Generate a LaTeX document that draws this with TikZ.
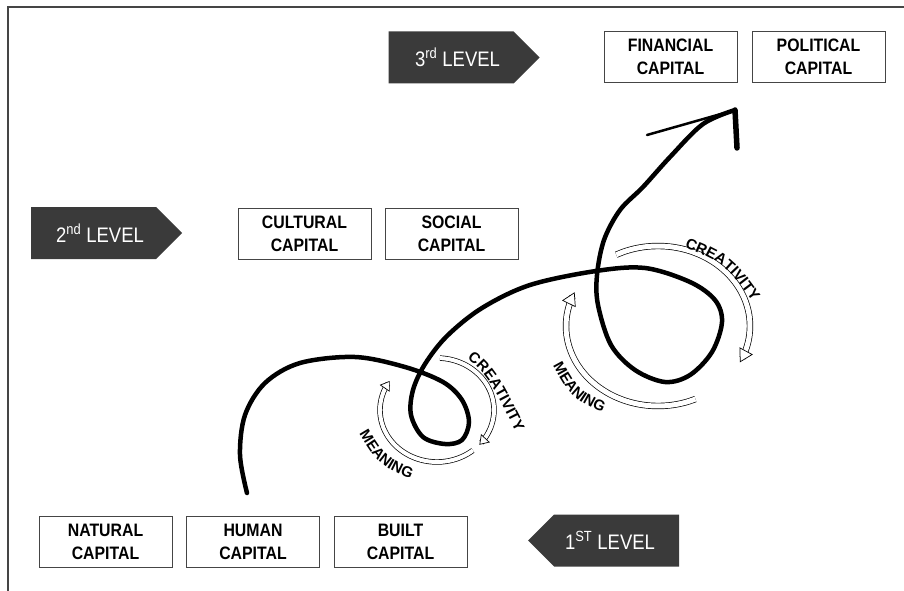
\documentclass[tikz,border=0pt]{standalone}
\usepackage{fontspec}
\setmainfont{Liberation Sans}[FakeStretch=0.88]
\newfontfamily\loopfont{Liberation Sans}
\usetikzlibrary{shapes.symbols,arrows.meta,decorations.text}
\definecolor{darkbox}{HTML}{3A3A3A}
\definecolor{edgegray}{HTML}{454545}
\newcommand{\looptextfont}{\loopfont\fontsize{15}{16}\selectfont\bfseries}

\begin{document}
\begin{tikzpicture}[x=1pt,y=-1pt,
  capital/.style={draw=edgegray,line width=0.9pt,minimum width=133pt,minimum height=51pt,inner sep=0pt,align=center,font=\fontsize{18}{23}\selectfont\bfseries},
  level/.style={signal,signal from=nowhere,fill=darkbox,signal pointer angle=90,minimum width=151pt,minimum height=52pt,inner sep=0pt,text=white,font=\fontsize{21}{24}\selectfont},
  ribbon/.style={draw=black,line width=0.7pt,double=white,double distance=4pt,-{Triangle[fill=white,line width=0.7pt,length=9pt,width=12pt]}},
  bigribbon/.style={ribbon,double distance=5pt,-{Triangle[fill=white,line width=0.7pt,length=13pt,width=15pt]}},
  looplabel/.style={font=\looptextfont,decorate,decoration={text along path,text align=center,text={|\looptextfont|#1}}},
  spiral/.style={line width=4.5pt,line cap=round,line join=round}]
  \useasboundingbox (0,0) rectangle (904,591);
  \draw[edgegray,line width=1.2pt] (8,591) -- (8,7) -- (904,7);

  % capitals and levels
  \node (natural) at (105.5,541.5) [capital] {NATURAL\\CAPITAL};
  \node (human) at (253,541.5) [capital] {HUMAN\\CAPITAL};
  \node (built) at (400.5,541.5) [capital] {BUILT\\CAPITAL};
  \node (level1) at (616.5,540.5) [level,signal to=west] {1\textsuperscript{ST} LEVEL\hspace*{13pt}};
  \node (cultural) at (304.5,233.5) [capital] {CULTURAL\\CAPITAL};
  \node (social) at (451.5,233.5) [capital] {SOCIAL\\CAPITAL};
  \node (level2) at (93.5,233) [level,signal to=east] {\hspace*{13pt}2\textsuperscript{nd} LEVEL};
  \node (financial) at (670.5,57) [capital] {FINANCIAL\\CAPITAL};
  \node (political) at (818.5,57) [capital] {POLITICAL\\CAPITAL};
  \node (level3) at (451,57.5) [level,signal to=east] {\hspace*{13pt}3\textsuperscript{rd} LEVEL};

  % spiral
  \coordinate (tip) at (735,110);
  \draw[spiral] plot[smooth,tension=0.55] coordinates {(247,493) (240,455) (245,415) (265,383)
    (300,363) (355,357) (405,367) (443,382) (462,400) (469,422) (462,440) (445,444) (423,437)
    (411,415) (413,390) (425,364) (447,336) (482,308) (530,285) (596,271) (645,268) (690,282)
    (715,300) (722,322) (712,352) (690,375) (665,382) (635,370) (611,345) (598,305) (597,275)
    (604,240) (620,210) (643,187) (670,157) (703,124) (tip)};
  \draw[line width=2.5pt,line cap=round] (tip) -- (647,135);
  \draw[line width=5.5pt,line cap=round] (tip) -- (737,148);

  % first loop
  \draw[ribbon] plot[domain=-87:42,smooth,samples=25,variable=\t] ({437+57*cos(\t)},{410+52*sin(\t)});
  \draw[ribbon] plot[domain=51:214,smooth,samples=25,variable=\t] ({437+57*cos(\t)},{410+52*sin(\t)});
  \path[looplabel=CREATIVITY] (460,353) .. controls (487,374) .. (520,440);
  \path[looplabel=MEANING] (352,421) .. controls (378,466) .. (424,484);

  % second loop
  \draw[bigribbon] plot[domain=-117:27,smooth,samples=25,variable=\t] ({658+92*cos(\t)},{326+80*sin(\t)});
  \draw[bigribbon] plot[domain=66:205,smooth,samples=25,variable=\t] ({658+92*cos(\t)},{326+80*sin(\t)});
  \path[looplabel=CREATIVITY] (674,243) .. controls (725,263) .. (759,311);
  \path[looplabel=MEANING] (547,354) .. controls (571,399) .. (614,418);
\end{tikzpicture}
\end{document}
